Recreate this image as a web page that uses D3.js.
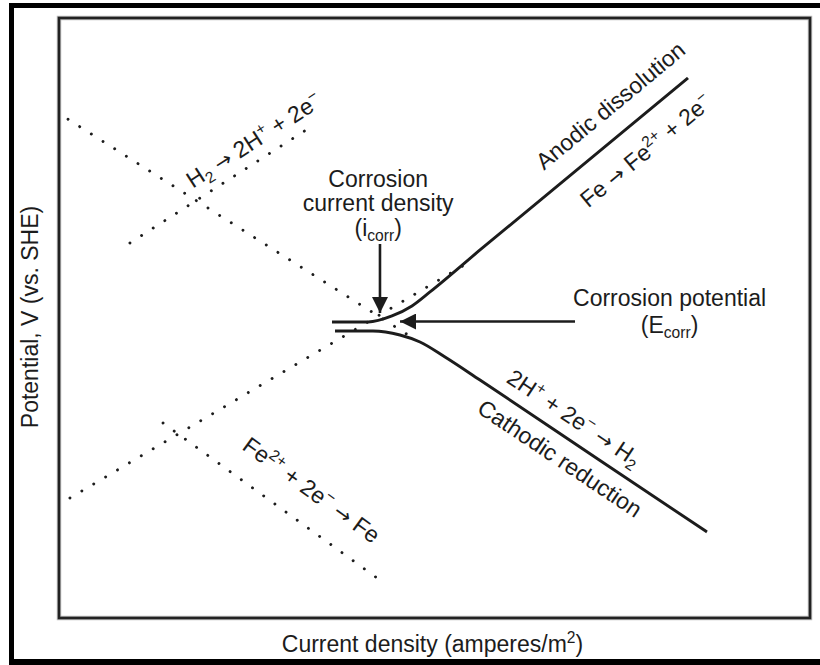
<!DOCTYPE html>
<html><head><meta charset="utf-8">
<script src="https://cdn.jsdelivr.net/npm/d3@7/dist/d3.min.js"></script>
<style>body{margin:0;background:#fff}svg{display:block}</style>
</head><body>
<svg id="chart" width="820" height="665"></svg>
<script>
// ---- data (x: log current density, arbitrary units; y: potential, arbitrary units) ----
const h2ReductionTafel = [[0.12, 6.65], [4.67, 3.76]];        // dotted, falling
const h2OxidationTafel = [[0.945, 5.00], [3.42, 6.59]];       // dotted, rising
const feOxidationTafel = [[0.146, 1.60], [5.47, 4.75]];       // dotted, rising
const feReductionTafel = [[1.385, 2.60], [4.235, 0.533]];     // dotted, falling
const anodicCurve   = [[3.635, 3.947], [4.115, 3.947], [4.434, 4.027], [4.70, 4.16], [4.94, 4.347], [5.606, 4.907], [8.376, 7.20]];
const cathodicCurve = [[3.675, 3.827], [4.181, 3.827], [4.54, 3.773], [4.807, 3.68], [5.14, 3.48], [5.606, 3.173], [7.204, 2.10], [8.628, 1.147]];
const icorrArrow = [[4.274, 4.987], [4.274, 4.067]];
const ecorrArrow = [[6.871, 3.953], [4.541, 3.953]];
const xDomain = [0, 10];
const yDomain = [0, 8];
const xAxisTitle = "Current density (amperes/m";
const yAxisTitle = "Potential, V (vs. SHE)";

// ---- layout ----
const svg = d3.select("#chart");
const W = 820, H = 665;
const x = d3.scaleLinear().domain(xDomain).range([59, 810]);
const y = d3.scaleLinear().domain(yDomain).range([618, 18]);
const ink = "#1c1c1c";
const font = "'Liberation Sans', Arial, Helvetica, sans-serif";
const fs = 23;

// outer frame (scan border)
svg.append("rect").attr("x", 9).attr("y", 3).attr("width", W - 9).attr("height", 5).attr("fill", "#000");
svg.append("rect").attr("x", 9).attr("y", 3).attr("width", 5).attr("height", H - 3).attr("fill", "#000");
svg.append("rect").attr("x", 9).attr("y", 659).attr("width", W - 9).attr("height", 6).attr("fill", "#000");

// plot box
const [x0, x1] = x.range(), [y1, y0] = y.range();
svg.append("rect").attr("x", x0).attr("y", y0).attr("width", x1 - x0).attr("height", y1 - y0)
  .attr("fill", "none").attr("stroke", "#bbb").attr("stroke-width", 4.5);
svg.append("rect").attr("x", x0).attr("y", y0).attr("width", x1 - x0).attr("height", y1 - y0)
  .attr("fill", "none").attr("stroke", "#222").attr("stroke-width", 2.6);

const line = d3.line().x(d => x(d[0])).y(d => y(d[1]));
const curve = d3.line().x(d => x(d[0])).y(d => y(d[1])).curve(d3.curveMonotoneX);

// dotted Tafel extrapolations
[h2ReductionTafel, h2OxidationTafel, feOxidationTafel, feReductionTafel].forEach(seg => {
  svg.append("path").attr("d", line(seg)).attr("fill", "none")
    .attr("stroke", ink).attr("stroke-width", 2.9).attr("stroke-linecap", "round")
    .attr("stroke-dasharray", "0.01 13.8");
});

// measured polarization curves
[anodicCurve, cathodicCurve].forEach(c => {
  svg.append("path").attr("d", curve(c)).attr("fill", "none")
    .attr("stroke", ink).attr("stroke-width", 2.9).attr("stroke-linejoin", "round");
});

// arrows
svg.append("defs").append("marker").attr("id", "head")
  .attr("viewBox", "0 0 10 10").attr("refX", 10).attr("refY", 5)
  .attr("markerUnits", "userSpaceOnUse").attr("markerWidth", 19).attr("markerHeight", 16)
  .attr("orient", "auto")
  .append("path").attr("d", "M0,0 L10,5 L0,10 Z").attr("fill", ink);
[icorrArrow, ecorrArrow].forEach(a => {
  svg.append("path").attr("d", line(a)).attr("stroke", ink).attr("stroke-width", 2.6)
    .attr("fill", "none").attr("marker-end", "url(#head)");
});

// helper: angle (deg) of a segment in screen space
const angleOf = seg => Math.atan2(y(seg[1][1]) - y(seg[0][1]), x(seg[1][0]) - x(seg[0][0])) * 180 / Math.PI;
const anodicAngle = angleOf([anodicCurve[5], anodicCurve[6]]);
const cathodicAngle = angleOf([cathodicCurve[6], cathodicCurve[7]]);

// text helper: parts = [[text, "n"|"sup"|"sub"|"arr"], ...]
function label(px, py, angle, parts, anchor = "middle") {
  const t = svg.append("text")
    .attr("transform", `translate(${px},${py}) rotate(${angle})`)
    .attr("text-anchor", anchor).attr("font-family", font).attr("font-size", fs).attr("fill", ink);
  let shift = 0;
  parts.forEach(([s, k]) => {
    const target = k === "sup" ? -9 : k === "sub" ? 5 : 0;
    const sp = t.append("tspan").attr("dy", target - shift)
      .attr("font-size", (k === "sup" || k === "sub") ? fs * 0.68 : fs).text(s);
    if (k === "arr") sp.attr("font-family", "'DejaVu Sans', sans-serif").attr("font-size", fs * 0.9);
    shift = target;
  });
  return t;
}

// annotation labels (positions in data units)
label(x(7.41), y(6.75), anodicAngle, [["Anodic dissolution", "n"]]);
label(x(7.88), y(6.15), anodicAngle, [["Fe ", "n"], ["→", "arr"], [" Fe", "n"], ["2+", "sup"], [" + 2e", "n"], ["−", "sup"]]);
label(x(6.80), y(2.58), cathodicAngle, [["2H", "n"], ["+", "sup"], [" + 2e", "n"], ["−", "sup"], [" ", "n"], ["→", "arr"], [" H", "n"], ["2", "sub"]]);
label(x(6.61), y(2.04), cathodicAngle, [["Cathodic reduction", "n"]]);
label(x(2.65), y(6.28), angleOf(h2OxidationTafel), [["H", "n"], ["2", "sub"], [" ", "n"], ["→", "arr"], [" 2H", "n"], ["+", "sup"], [" + 2e", "n"], ["−", "sup"]]);
label(x(3.30), y(1.62), angleOf(feReductionTafel), [["Fe", "n"], ["2+", "sup"], [" + 2e", "n"], ["−", "sup"], [" ", "n"], ["→", "arr"], [" Fe", "n"]]);

label(x(4.25), y(5.75), 0, [["Corrosion", "n"]]);
label(x(4.25), y(5.43), 0, [["current density", "n"]]);
label(x(4.25), y(5.09), 0, [["(i", "n"], ["corr", "sub"], [")", "n"]]);
label(x(8.13), y(4.16), 0, [["Corrosion potential", "n"]]);
label(x(8.13), y(3.80), 0, [["(E", "n"], ["corr", "sub"], [")", "n"]]);

// axis titles
svg.append("text").attr("x", (x0 + x1) / 2 - 2).attr("y", 652).attr("text-anchor", "middle")
  .attr("font-family", font).attr("font-size", fs).attr("fill", ink)
  .call(t => {
    t.append("tspan").text(xAxisTitle);
    t.append("tspan").attr("dy", -9).attr("font-size", fs * 0.68).text("2");
    t.append("tspan").attr("dy", 9).text(")");
  });
svg.append("text").attr("transform", `translate(38,317) rotate(-90)`)
  .attr("text-anchor", "middle").attr("font-family", font).attr("font-size", fs).attr("fill", ink)
  .text(yAxisTitle);
</script>
</body></html>
